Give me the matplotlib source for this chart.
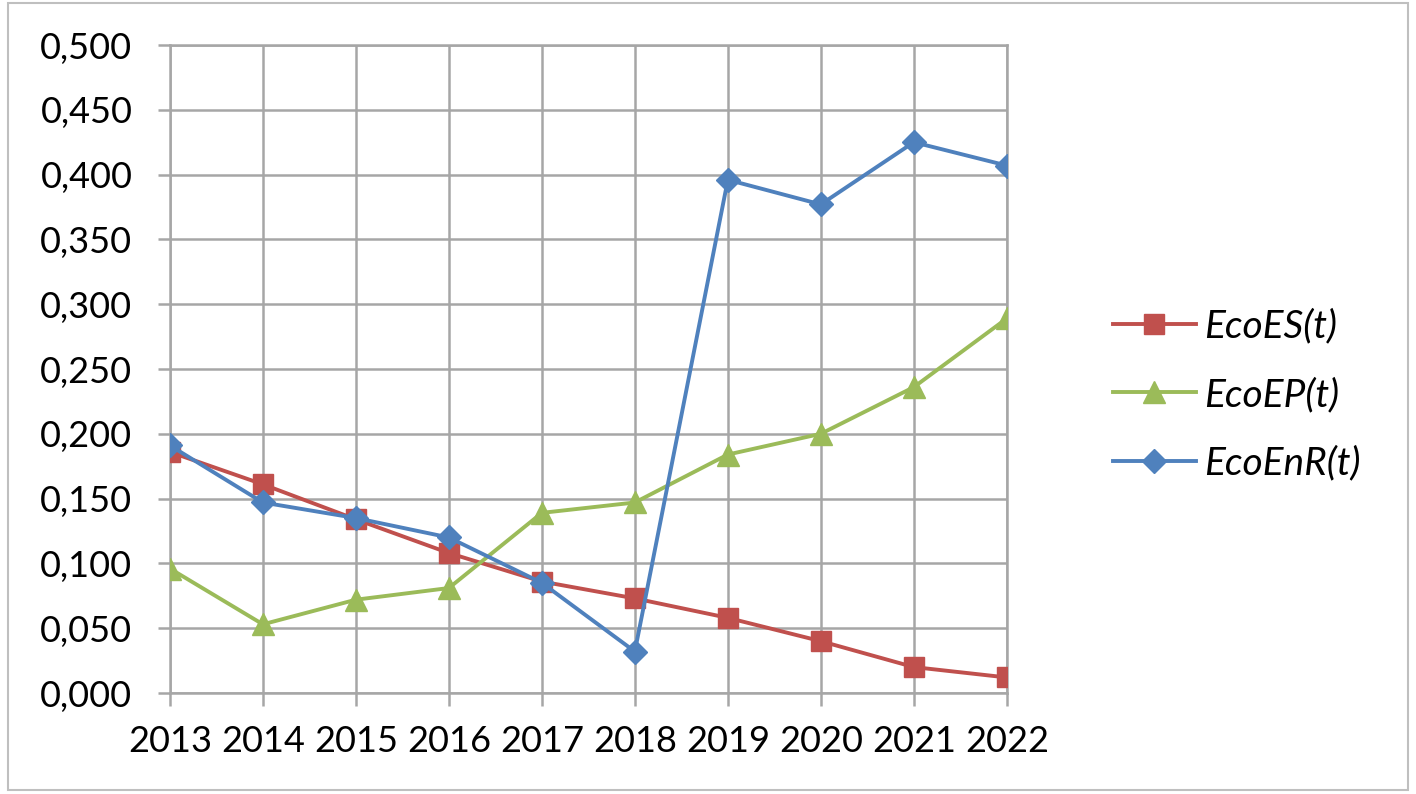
import numpy as np
import matplotlib.pyplot as plt
from matplotlib.patches import Rectangle
from matplotlib.ticker import FuncFormatter, MultipleLocator

years = [2013, 2014, 2015, 2016, 2017, 2018, 2019, 2020, 2021, 2022]
eco_es = [0.186, 0.161, 0.134, 0.108, 0.086, 0.073, 0.058, 0.040, 0.020, 0.012]
eco_ep = [0.096, 0.053, 0.072, 0.081, 0.139, 0.147, 0.184, 0.200, 0.236, 0.289]
eco_enr = [0.191, 0.147, 0.135, 0.120, 0.085, 0.032, 0.396, 0.377, 0.425, 0.407]
labels = ["EcoES(t)", "EcoEP(t)", "EcoEnR(t)"]

plt.rcParams['font.family'] = ['Lato', 'DejaVu Sans']

fig = plt.figure(figsize=(14.16, 7.94), dpi=100)
ax = fig.add_axes([0.12, 0.1272, 0.591, 0.8161])

grid_col = '#a6a6a6'
ax.plot(years, eco_es, color='#C0504D', lw=2.8, marker='s', ms=14, label=labels[0], zorder=3)
ax.plot(years, eco_ep, color='#9BBB59', lw=2.8, marker='^', ms=16, label=labels[1], zorder=4)
ax.plot(years, eco_enr, color='#4F81BD', lw=2.8, marker='D', ms=12, label=labels[2], zorder=5)

ax.set_xlim(2013, 2022)
ax.set_ylim(0, 0.5)
ax.set_xticks(years)
ax.yaxis.set_major_locator(MultipleLocator(0.05))
ax.yaxis.set_major_formatter(FuncFormatter(lambda v, p: f"{v:.3f}".replace('.', ',')))
ax.grid(True, color=grid_col, lw=1.8)
ax.set_axisbelow(True)
for s in ax.spines.values():
    s.set_color(grid_col)
    s.set_linewidth(1.8)
ax.tick_params(axis='both', length=9, width=1.8, color=grid_col, labelsize=26)
ax.tick_params(axis='y', pad=18)
ax.tick_params(axis='x', pad=14)

fig.legend(loc='center left', bbox_to_anchor=(0.761, 0.5025), frameon=False,
           prop={'style': 'italic', 'size': 28}, handlelength=2.15,
           labelspacing=0.83, handletextpad=0.2)

fig.patches.append(Rectangle((8 / 1416, 1 - 790 / 794), 1400 / 1416, 787 / 794,
                             transform=fig.transFigure, fill=False,
                             edgecolor='#bfbfbf', lw=1.5))

fig.savefig('out.png', dpi=100)
